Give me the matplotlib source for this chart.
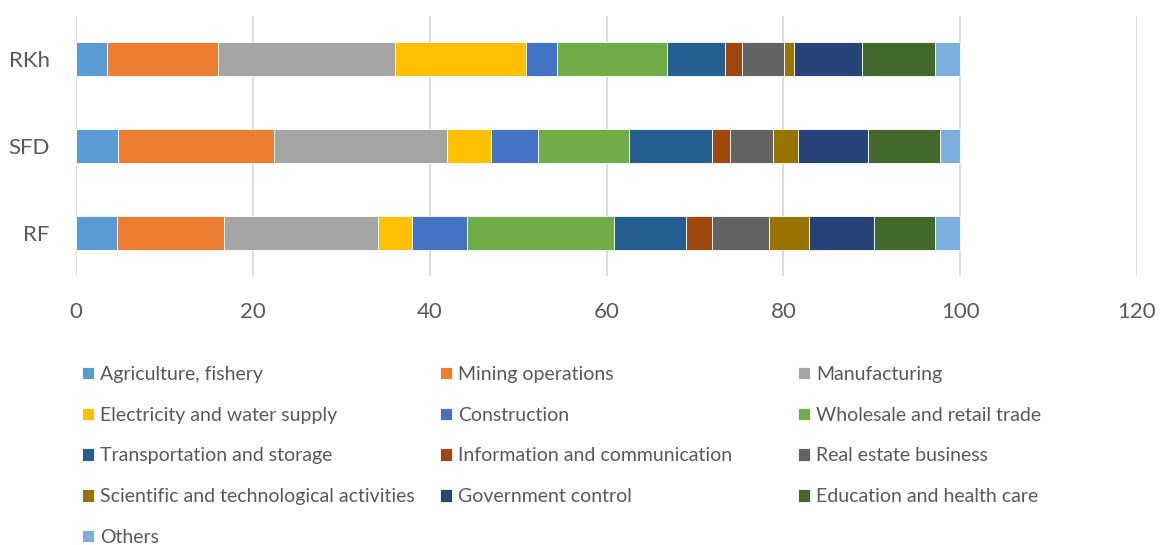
import matplotlib
matplotlib.use('Agg')
import matplotlib.pyplot as plt
import numpy as np

plt.rcParams['font.family'] = ['Lato', 'DejaVu Sans']

# regions, bottom to top
regions = ['RF', 'SFD', 'RKh']

sectors = ['Agriculture, fishery', 'Mining operations', 'Manufacturing',
           'Electricity and water supply', 'Construction', 'Wholesale and retail trade',
           'Transportation and storage', 'Information and communication', 'Real estate business',
           'Scientific and technological activities', 'Government control',
           'Education and health care', 'Others']

# share of each sector, %, per region (RF, SFD, RKh)
rf_vals  = [4.6, 12.1, 17.4, 3.9, 6.2, 16.7, 8.1, 2.9, 6.5, 4.5, 7.3, 6.9, 2.9]
sfd_vals = [4.7, 17.7, 19.6, 4.9, 5.4, 10.3, 9.3, 2.1, 4.8, 2.9, 7.9, 8.1, 2.3]
rkh_vals = [3.55, 12.5, 20.0, 14.9, 3.5, 12.4, 6.6, 1.9, 4.7, 1.1, 7.7, 8.3, 2.8]

colors = ['#5B9BD5', '#ED7D31', '#A5A5A5', '#FFC000', '#4472C4', '#70AD47',
          '#255E91', '#9E480E', '#636363', '#997300', '#264478', '#43682B', '#7CAFDD']

txt_col = '#595959'

W, H = 1163, 545
fig = plt.figure(figsize=(W / 100, H / 100), dpi=100)
ax = fig.add_axes([76 / W, 1 - 276 / H, (1137 - 76) / W, (276 - 16) / H])

data = np.array([rf_vals, sfd_vals, rkh_vals])
ypos = np.arange(len(regions))
left = np.zeros(len(regions))
handles = []
for i, name in enumerate(sectors):
    b = ax.barh(ypos, data[:, i], left=left, height=0.39, color=colors[i],
                edgecolor='white', linewidth=0.6, label=name, zorder=3)
    handles.append(b)
    left += data[:, i]

ax.set_xlim(0, 120)
ax.set_ylim(-0.5, 2.5)
ax.set_xticks(np.arange(0, 121, 20))
ax.set_yticks(ypos)
ax.set_yticklabels(regions)
ax.tick_params(axis='both', length=0, labelsize=16, labelcolor=txt_col)
ax.tick_params(axis='x', pad=19)
ax.tick_params(axis='y', pad=19)
ax.xaxis.grid(True, color='#d9d9d9', linewidth=1.3, zorder=0)
ax.set_axisbelow(True)
for s in ax.spines.values():
    s.set_visible(False)

# legend: three columns, row-major order like the original
col_x = [82, 440, 798]
for c in range(3):
    idx = list(range(c, len(sectors), 3))
    leg = fig.legend([handles[i] for i in idx], [sectors[i] for i in idx],
                     loc='upper left', bbox_to_anchor=(col_x[c] / W, 1 - 366 / H),
                     frameon=False, fontsize=14, labelcolor=txt_col,
                     handlelength=0.62, handleheight=0.62, handletextpad=0.3,
                     labelspacing=1.22, borderpad=0, borderaxespad=0)

fig.savefig('out.png', dpi=100)
